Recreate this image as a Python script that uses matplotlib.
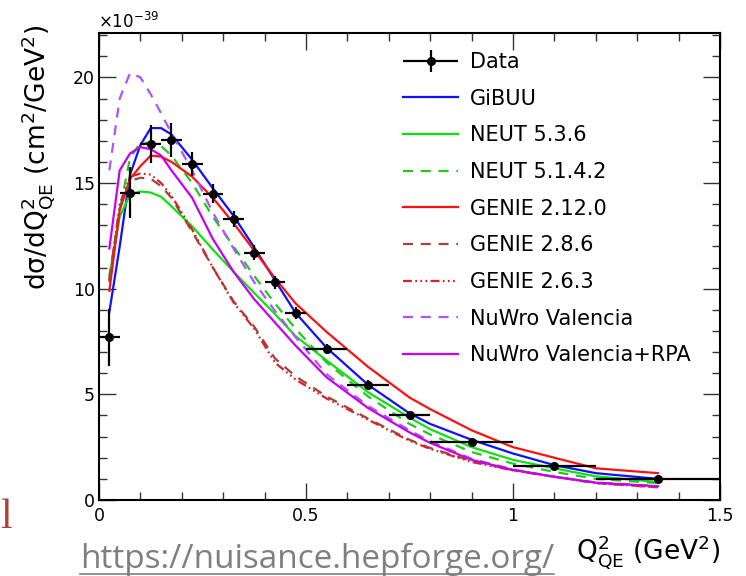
import matplotlib
matplotlib.use('Agg')
import matplotlib.pyplot as plt
from matplotlib.legend_handler import HandlerErrorbar
from matplotlib.lines import Line2D
from matplotlib.ticker import MultipleLocator, FuncFormatter

# Data: Q2 bins (bin centres / half widths), values in units of 1e-39 cm^2/GeV^2
q2 = [0.025, 0.075, 0.125, 0.175, 0.225, 0.275, 0.325, 0.375, 0.425, 0.475,
      0.55, 0.65, 0.75, 0.9, 1.1, 1.35]
q2_halfwidth = [0.025, 0.025, 0.025, 0.025, 0.025, 0.025, 0.025, 0.025, 0.025, 0.025,
                0.05, 0.05, 0.05, 0.1, 0.1, 0.15]
data = [7.7, 14.55, 16.85, 17.05, 15.9, 14.5, 13.3, 11.7, 10.3, 8.85,
        7.15, 5.45, 4.0, 2.75, 1.6, 1.0]
data_err = [1.35, 1.2, 0.9, 0.8, 0.55, 0.45, 0.4, 0.35, 0.3, 0.3,
            0.25, 0.22, 0.2, 0.15, 0.1, 0.07]

# generator curves (extra points where they bend)
q2_mc = [0.025, 0.05, 0.075, 0.1, 0.125, 0.15, 0.175, 0.225, 0.275, 0.325, 0.375,
         0.425, 0.475, 0.55, 0.65, 0.75, 0.8, 0.9, 1.0, 1.1, 1.2, 1.35]
gibuu = [8.9, 12.0, 15.4, 16.8, 17.6, 17.6, 17.3, 16.1, 14.75, 13.45, 11.95,
         10.4, 8.85, 7.2, 5.45, 4.1, 3.6, 2.85, 2.2, 1.65, 1.27, 1.0]
neut_536 = [10.5, 13.4, 14.45, 14.6, 14.55, 14.35, 13.9, 12.95, 11.85, 10.8, 9.8,
            8.8, 7.75, 6.6, 5.1, 3.9, 3.35, 2.5, 1.9, 1.5, 1.12, 0.85]
neut_5142 = [10.6, 13.7, 16.2, 16.9, 16.9, 16.75, 16.3, 15.0, 13.4, 12.0, 10.6,
             9.3, 8.1, 6.5, 4.9, 3.6, 3.1, 2.27, 1.72, 1.33, 1.0, 0.8]
genie_2120 = [9.9, 13.7, 15.2, 15.8, 16.3, 16.25, 16.0, 15.3, 14.3, 13.1, 11.8,
              10.5, 9.3, 7.95, 6.3, 4.85, 4.3, 3.3, 2.5, 2.0, 1.5, 1.27]
genie_286 = [10.4, 13.8, 15.1, 15.25, 15.2, 14.85, 14.3, 12.7, 11.0, 9.4, 8.2,
             6.7, 5.85, 4.9, 3.85, 2.85, 2.46, 1.85, 1.42, 1.1, 0.8, 0.6]
genie_263 = [10.3, 14.0, 15.3, 15.45, 15.4, 15.0, 14.4, 12.8, 11.0, 9.35, 8.1,
             6.5, 5.7, 4.8, 3.8, 2.8, 2.42, 1.8, 1.4, 1.1, 0.8, 0.6]
nuwro_val = [15.6, 19.0, 20.2, 20.0, 19.2, 18.3, 17.35, 15.6, 13.6, 11.9, 10.3,
             8.95, 7.7, 5.95, 4.45, 3.3, 2.78, 1.95, 1.45, 1.1, 0.83, 0.66]
nuwro_rpa = [11.9, 15.6, 16.4, 16.7, 16.6, 16.3, 15.6, 14.3, 12.35, 10.8, 9.5,
             8.4, 7.3, 5.8, 4.35, 3.2, 2.7, 1.9, 1.42, 1.1, 0.82, 0.65]

W, H = 746, 576
fig = plt.figure(figsize=(W / 100, H / 100), dpi=100)
ax = fig.add_axes([99 / W, 1 - 500 / H, (720 - 99) / W, (500 - 33) / H])

lw = 1.6
kw = dict(lw=lw, solid_joinstyle='round', dash_joinstyle='round')
ax.plot(q2_mc, gibuu, color='#1010ff', label='GiBUU', **kw)
ax.plot(q2_mc, neut_536, color='#10e010', label='NEUT 5.3.6', **kw)
ax.plot(q2_mc, neut_5142, color='#20c820', dashes=(4.5, 3.5), label='NEUT 5.1.4.2', **kw)
ax.plot(q2_mc, genie_2120, color='#ff1010', label='GENIE 2.12.0', **kw)
ax.plot(q2_mc, genie_286, color='#a84040', dashes=(4.5, 3.5), label='GENIE 2.8.6', **kw)
ax.plot(q2_mc, genie_263, color='#d02828',
        dashes=(4, 1.5, 0.8, 1.5, 0.8, 1.5, 0.8, 1.5), label='GENIE 2.6.3', **kw)
ax.plot(q2_mc, nuwro_val, color='#aa55ff', dashes=(4.5, 3.5), label='NuWro Valencia', **kw)
ax.plot(q2_mc, nuwro_rpa, color='#c800f0', label='NuWro Valencia+RPA', **kw)

eb = ax.errorbar(q2, data, yerr=data_err, xerr=q2_halfwidth, fmt='o', color='black',
                 ms=5.5, elinewidth=1.6, capsize=0, zorder=5, label='Data')

ax.set_xlim(0, 1.5)
ax.set_ylim(0, 22.1)
ax.xaxis.set_major_locator(MultipleLocator(0.5))
ax.xaxis.set_minor_locator(MultipleLocator(0.1))
ax.yaxis.set_major_locator(MultipleLocator(5))
ax.yaxis.set_minor_locator(MultipleLocator(1))
ax.xaxis.set_major_formatter(FuncFormatter(lambda v, p: '%g' % v))
ax.tick_params(which='both', direction='in', top=True, right=True, width=1.0,
               labelsize=12.5, color='#333333')
ax.tick_params(which='major', length=12)
ax.tick_params(which='minor', length=6)
ax.tick_params(axis='x', pad=5)
ax.tick_params(axis='y', pad=3)
for s in ax.spines.values():
    s.set_linewidth(1.5)

plt.rcParams['mathtext.default'] = 'regular'

handles, labels = ax.get_legend_handles_labels()
order = [labels.index(n) for n in ['Data', 'GiBUU', 'NEUT 5.3.6', 'NEUT 5.1.4.2',
                                   'GENIE 2.12.0', 'GENIE 2.8.6', 'GENIE 2.6.3',
                                   'NuWro Valencia', 'NuWro Valencia+RPA']]
leg = ax.legend([handles[i] for i in order], [labels[i] for i in order],
                loc='upper left', bbox_to_anchor=((403 - 99) / 621, (500 - 52) / 467),
                frameon=False, fontsize=15, handlelength=2.65, handletextpad=0.55,
                labelspacing=0.8, borderpad=0, borderaxespad=0,
                handler_map={type(eb): HandlerErrorbar(xerr_size=1.33, yerr_size=0.53)})

fig.text(98 / W, 1 - 32 / H, r'$\times$10$^{-39}$', fontsize=12, ha='left', va='bottom')
fig.text(38 / W, 1 - 25 / H, r'd$\sigma$/dQ$^{2}_{QE}$ (cm$^{2}$/GeV$^{2}$)',
         rotation=90, fontsize=19, ha='center', va='top')
fig.text(720 / W, 1 - 552 / H, r'Q$^{2}_{QE}$ (GeV$^{2}$)', fontsize=19,
         ha='right', va='center')

fig.text(0, 1 - 528 / H, 'l', family='Liberation Serif', fontsize=30,
         color='#a8423a', ha='left', va='baseline')

url = fig.text(80 / W, 1 - 568 / H, 'https://nuisance.hepforge.org/', family='Open Sans',
               fontsize=20, color='#7f7f7f', ha='left', va='baseline')
fig.canvas.draw()
bb = url.get_window_extent()
url.set_fontsize(20 * (552 - 80) / bb.width)
fig.canvas.draw()
bb = url.get_window_extent()
fig.add_artist(Line2D([bb.x0 / W, bb.x1 / W], [1 - 574 / H, 1 - 574 / H],
                      color='#7f7f7f', lw=1.2))

fig.savefig('out.png', dpi=100)
